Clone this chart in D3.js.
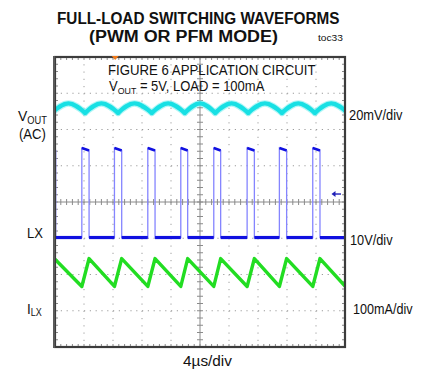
<!DOCTYPE html>
<html>
<head>
<meta charset="utf-8">
<script src="https://cdn.jsdelivr.net/npm/d3@7"></script>
<style>
  body { margin: 0; background: #fff; }
  svg { display: block; }
  text { font-family: "Liberation Sans", Arial, Helvetica, sans-serif; fill: #111; }
</style>
</head>
<body>
<svg id="chart" width="428" height="375"></svg>
<script>
// ---- Scope settings -------------------------------------------------------
const timePerDiv = 4;          // µs/div
const timeDivCount = 10;
const levelDivs = [-4, -3, -2, -1, 0, 1, 2, 3, 4];

// Per-channel sensitivity and ground offset (in divisions from centre)
const voutPerDiv = 20;  const voutOffsetDiv = 2.59;   // mV/div, AC coupled
const lxPerDiv = 10;    const lxOffsetDiv = -0.98;    // V/div
const ilxPerDiv = 100;  const ilxOffsetDiv = -3.31;   // mA/div

// ---- V_OUT ripple (mV): cusp-shaped valleys and rounded crests --------------
const voutValleyT  = [-0.45, 4.15, 8.7, 13.35, 17.9, 22.1, 26.65, 31.3, 35.85, 40.4];
const voutValleyMv = [-2.6, -2.6, -2.6, -2.6, -2.6, -2.6, -2.6, -2.6, -2.6, -2.6];
const voutPeakT    = [1.85, 6.4, 10.95, 15.6, 20.0, 24.35, 28.95, 33.55, 38.1];
const voutPeakMv   = [2.6, 2.6, 2.6, 2.6, 2.6, 2.6, 2.6, 2.6, 2.6];

// ---- LX switching node (V) ---------------------------------------------------
const lxRiseT = [-1.0, 3.7, 8.2, 12.8, 17.35, 21.9, 26.5, 30.95, 35.55];
const lxFallT = [0.1, 4.7, 9.2, 13.8, 18.3, 22.85, 27.5, 31.95, 36.55];
const lxLowV = 0;
const lxHighV = 24;
const lxOvershootV = 24.7;

// ---- Inductor current (mA) ---------------------------------------------------
const ilxT  = [0, 3.7, 4.7, 8.2, 9.2, 12.8, 13.8, 17.35, 18.3, 21.9, 22.85, 26.5, 27.5, 30.95, 31.95, 35.55, 36.55, 40];
const ilxMa = [173, 98, 175, 98, 175, 98, 175, 98, 175, 98, 175, 98, 175, 98, 175, 98, 175, 99];

// ---- Trigger -----------------------------------------------------------------
const trigT = 8.3;      // µs, marker on the top edge
const trigLevelV = 12;  // V on LX, arrow on the right edge

// ---- Layout ------------------------------------------------------------------
const svg = d3.select("#chart");
const plot = { left: 55, right: 345, top: 57, bottom: 347 };

const x = d3.scaleLinear().domain([0, timePerDiv * timeDivCount]).range([plot.left, plot.right]);
const y = d3.scaleLinear().domain([levelDivs[0], levelDivs[levelDivs.length - 1]]).range([plot.bottom, plot.top]);

const yVout = v => y(voutOffsetDiv + v / voutPerDiv);
const yLx   = v => y(lxOffsetDiv + v / lxPerDiv);
const yIlx  = v => y(ilxOffsetDiv + v / ilxPerDiv);

const majorT = d3.range(0, timeDivCount + 1).map(d => d * timePerDiv);
const minorT = d3.range(0, timeDivCount * 5 + 1).map(d => d * timePerDiv / 5);
const minorL = d3.range(0, 8 * 5 + 1).map(d => levelDivs[0] + d / 5);
const centreT = timePerDiv * timeDivCount / 2;

// ---- Graticule -----------------------------------------------------------------
const grid = svg.append("g");
const gridColor = "#9c9c9c";

grid.selectAll("line.vg")
  .data(majorT.filter(t => t > 0 && t < x.domain()[1] && t !== centreT))
  .join("line")
  .attr("x1", d => x(d)).attr("x2", d => x(d))
  .attr("y1", plot.top).attr("y2", plot.bottom)
  .attr("stroke", gridColor).attr("stroke-width", 1)
  .attr("stroke-dasharray", "1.2,6.05");

grid.selectAll("line.hg")
  .data(levelDivs.filter(l => l !== 0 && Math.abs(l) !== 4))
  .join("line")
  .attr("x1", plot.left).attr("x2", plot.right)
  .attr("y1", d => y(d)).attr("y2", d => y(d))
  .attr("stroke", gridColor).attr("stroke-width", 1)
  .attr("stroke-dasharray", "1.2,4.6");

// centre axes with minor ticks
const axisColor = "#8a8a8a";
grid.append("line")
  .attr("x1", plot.left).attr("x2", plot.right)
  .attr("y1", y(0)).attr("y2", y(0))
  .attr("stroke", axisColor).attr("stroke-width", 1);
grid.append("line")
  .attr("x1", x(centreT)).attr("x2", x(centreT))
  .attr("y1", plot.top).attr("y2", plot.bottom)
  .attr("stroke", axisColor).attr("stroke-width", 1);

grid.selectAll("line.cxt").data(minorT).join("line")
  .attr("x1", d => x(d)).attr("x2", d => x(d))
  .attr("y1", y(0) - 3).attr("y2", y(0) + 3)
  .attr("stroke", axisColor).attr("stroke-width", 1);
grid.selectAll("line.cyt").data(minorL).join("line")
  .attr("x1", x(centreT) - 3).attr("x2", x(centreT) + 3)
  .attr("y1", d => y(d)).attr("y2", d => y(d))
  .attr("stroke", axisColor).attr("stroke-width", 1);

// border ticks pointing inward
grid.selectAll("line.tt").data(minorT).join("line")
  .attr("x1", d => x(d)).attr("x2", d => x(d))
  .attr("y1", plot.top).attr("y2", plot.top + 3)
  .attr("stroke", axisColor);
grid.selectAll("line.bt").data(minorT).join("line")
  .attr("x1", d => x(d)).attr("x2", d => x(d))
  .attr("y1", plot.bottom).attr("y2", plot.bottom - 3)
  .attr("stroke", axisColor);
grid.selectAll("line.lt").data(minorL).join("line")
  .attr("x1", plot.left).attr("x2", plot.left + 3)
  .attr("y1", d => y(d)).attr("y2", d => y(d))
  .attr("stroke", axisColor);
grid.selectAll("line.rt").data(minorL).join("line")
  .attr("x1", plot.right).attr("x2", plot.right - 3)
  .attr("y1", d => y(d)).attr("y2", d => y(d))
  .attr("stroke", axisColor);

// ---- Traces ----------------------------------------------------------------------
svg.append("clipPath").attr("id", "screen")
  .append("rect")
  .attr("x", plot.left).attr("y", plot.top)
  .attr("width", plot.right - plot.left).attr("height", plot.bottom - plot.top);

const traces = svg.append("g").attr("clip-path", "url(#screen)");

// V_OUT: one natural-spline arch per switching cycle, joined at the cusps
const archLine = d3.line().x(d => x(d[0])).y(d => yVout(d[1])).curve(d3.curveNatural);
const arches = voutPeakT.map((t, i) => [
  [voutValleyT[i], voutValleyMv[i]],
  [t, voutPeakMv[i]],
  [voutValleyT[i + 1], voutValleyMv[i + 1]]
]);
traces.selectAll("path.vout-halo").data(arches).join("path")
  .attr("d", archLine)
  .attr("fill", "none").attr("stroke", "#7ff0f0").attr("stroke-width", 6.5)
  .attr("stroke-linecap", "round").attr("opacity", 0.6);
traces.selectAll("path.vout").data(arches).join("path")
  .attr("d", archLine)
  .attr("fill", "none").attr("stroke", "#18e0e4").attr("stroke-width", 4.2)
  .attr("stroke-linecap", "round");

// LX: faint fast edges, bright dwell levels
const lxPts = [];
lxRiseT.forEach((r, i) => {
  lxPts.push([r, lxLowV], [r, lxOvershootV], [lxFallT[i], lxHighV], [lxFallT[i], lxLowV]);
});
lxPts.push([x.domain()[1] + 1, lxLowV]);
const lxLine = d3.line().x(d => x(d[0])).y(d => yLx(d[1]));
traces.append("path")
  .attr("d", lxLine(lxPts))
  .attr("fill", "none").attr("stroke", "#8585ff").attr("stroke-width", 1.3);

const lxLows = lxFallT.map((f, i) => [[f, lxLowV], [i + 1 < lxRiseT.length ? lxRiseT[i + 1] : x.domain()[1] + 1, lxLowV]]);
const lxTops = lxRiseT.map((r, i) => [[r, lxOvershootV], [lxFallT[i], lxHighV]]);
traces.selectAll("path.lxlow").data(lxLows).join("path")
  .attr("d", lxLine)
  .attr("fill", "none").attr("stroke", "#1010e0").attr("stroke-width", 3.2);
traces.selectAll("path.lxtop").data(lxTops).join("path")
  .attr("d", lxLine)
  .attr("fill", "none").attr("stroke", "#1010e0").attr("stroke-width", 2.6);

// I_LX sawtooth
const ilxLine = d3.line().x((d, i) => x(ilxT[i])).y(d => yIlx(d));
traces.append("path")
  .attr("d", ilxLine(ilxMa))
  .attr("fill", "none").attr("stroke", "#22dd22").attr("stroke-width", 3.4)
  .attr("stroke-linejoin", "round");

// ---- Screen frame ------------------------------------------------------------------
svg.append("rect")
  .attr("x", plot.left).attr("y", plot.top)
  .attr("width", plot.right - plot.left).attr("height", plot.bottom - plot.top)
  .attr("fill", "none").attr("stroke", "#3c3c3c").attr("stroke-width", 2.2);
svg.append("line")
  .attr("x1", plot.left - 1).attr("x2", plot.left - 1)
  .attr("y1", plot.top - 1).attr("y2", plot.bottom + 1)
  .attr("stroke", "#5a5a5a").attr("stroke-width", 2);

// trigger position marker
const tx = x(trigT);
svg.append("path")
  .attr("d", `M${tx - 3.5},${plot.top - 1} L${tx + 3.5},${plot.top - 1} L${tx},${plot.top + 3} Z`)
  .attr("fill", "#f07a1a");

// trigger level arrow
const ty = yLx(trigLevelV);
svg.append("line")
  .attr("x1", plot.right - 12).attr("x2", plot.right - 4)
  .attr("y1", ty).attr("y2", ty)
  .attr("stroke", "#2020b8").attr("stroke-width", 1.4);
svg.append("path")
  .attr("d", `M${plot.right - 13.5},${ty} L${plot.right - 9.5},${ty - 3} L${plot.right - 9.5},${ty + 3} Z`)
  .attr("fill", "#2020b8");

// ---- Text ----------------------------------------------------------------------------
// squeeze or stretch a text horizontally so it spans [x0, x1]
function fit(sel, x0, x1) {
  const b = sel.node().getBBox();
  const s = (x1 - x0) / b.width;
  sel.attr("transform", `translate(${x0},0) scale(${s},1) translate(${-b.x},0)`);
  return sel;
}
function label(str, x0, x1, baseline, size, weight) {
  const t = svg.append("text")
    .attr("x", 0).attr("y", baseline)
    .attr("font-size", size).attr("font-weight", weight || "normal")
    .text(str);
  return fit(t, x0, x1);
}
function subLabel(main, sub, rest, x0, x1, baseline, size, subSize) {
  const t = svg.append("text").attr("x", 0).attr("y", baseline).attr("font-size", size);
  t.append("tspan").text(main);
  t.append("tspan").attr("font-size", subSize).attr("dy", 2.5).text(sub);
  if (rest) t.append("tspan").attr("dy", -2.5).text(rest);
  return fit(t, x0, x1);
}

label("FULL-LOAD SWITCHING WAVEFORMS", 57, 340, 24.5, 16, "bold");
label("(PWM OR PFM MODE)", 89, 278, 42.5, 16, "bold");
label("toc33", 318, 343, 41, 9.5);

label("FIGURE 6 APPLICATION CIRCUIT", 108, 316, 75.5, 14);
subLabel("V", "OUT", " = 5V, LOAD = 100mA", 109, 265, 91.5, 14, 9.5);

subLabel("V", "OUT", null, 18, 47, 121.5, 15, 10);
label("(AC)", 19, 46, 139.5, 14);
label("LX", 27, 43, 238, 15);
subLabel("I", "LX", null, 27, 42, 314, 15, 10);

label(`${voutPerDiv}mV/div`, 349, 403, 120, 15);
label(`${lxPerDiv}V/div`, 350, 393, 245, 15);
label(`${ilxPerDiv}mA/div`, 353, 413, 314, 15);
label(`${timePerDiv}µs/div`, 183, 232, 366, 14);
</script>
</body>
</html>
